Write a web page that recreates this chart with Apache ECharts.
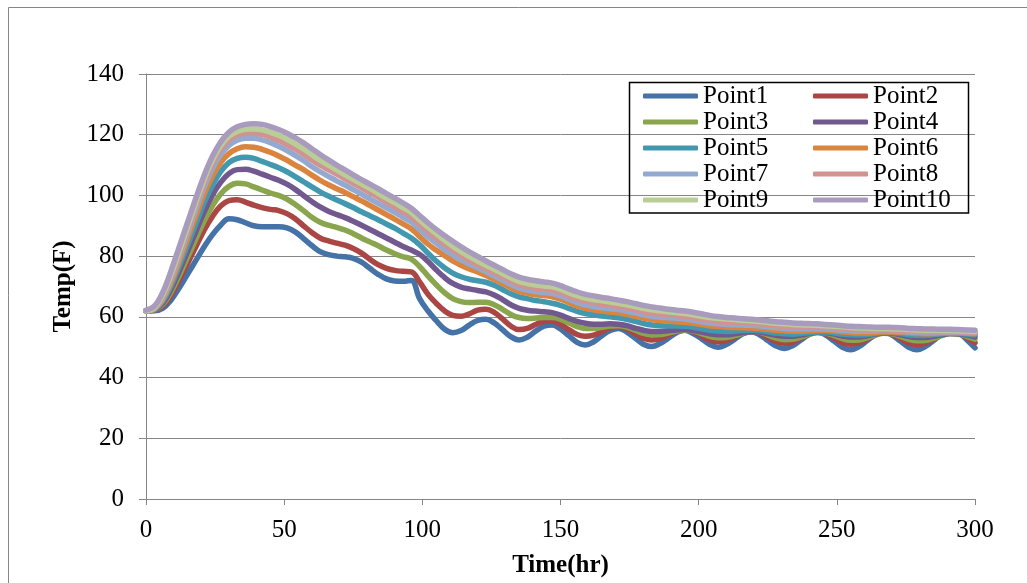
<!DOCTYPE html>
<html>
<head>
<meta charset="utf-8">
<script src="https://cdn.jsdelivr.net/npm/echarts@6/dist/echarts.min.js"></script>
<style>
html,body{margin:0;padding:0;background:#fff;}
#chart{width:1027px;height:583px;}
</style>
</head>
<body>
<div id="chart"></div>
<script>
// ---- data ----
const times = [0,3,6,9,12,15,18,21,24,27,30,33,36,39,42,45,48,51,54,57,
60,63,66,69,72,75,78,81,84,87,90,93,96,99,102,105,108,111,114,117,
120,123,126,129,132,135,138,141,144,147,150,153,156,159,162,165,168,171,174,177,
180,183,186,189,192,195,198,201,204,207,210,213,216,219,222,225,228,231,234,237,
240,243,246,249,252,255,258,261,264,267,270,273,276,279,282,285,288,291,294,297,300];

const seriesNames = ["Point1","Point2","Point3","Point4","Point5","Point6","Point7","Point8","Point9","Point10"];

const point1 = [62,62,62.8,65.5,69.5,74,78.5,83,87,90.2,
92.3,92,91,90,89.7,89.7,89.7,89.3,88,85.8,
83.5,81.5,80.5,80,79.8,79.3,78,76,74,72.5,
71.8,71.7,72,66,62,58.8,56,54.8,55.5,57.3,
58.8,59.2,58,55.8,53.5,52.4,53.3,55.3,56.9,57.3,
56,53.8,51.6,50.7,51.8,53.8,55.5,56.2,55,53,
51,50.2,51.2,53,54.8,55.6,54.5,52.8,50.9,50,
50.9,52.6,54.4,55.1,54.1,52.2,50.4,49.6,50.5,52.4,
54.2,55,54,52,50,49.2,50.2,52.2,54.1,55,
54,52,50,49.2,50.2,52.2,54.2,55.2,54.8,52.5,
49.8];

const point2 = [62,62.2,63.5,67,72,77.5,83,88.5,93,96.5,
98.3,98.6,97.8,96.8,96,95.4,95,94,92.3,90,
87.8,86,85,84.3,83.6,82.5,81,79,77.2,76,
75.3,75,74.8,71.5,67.5,64.5,62,60.5,60.2,61,
62.2,62.5,61.5,59.3,57,55.8,56.2,57.5,58.5,58.6,
57.5,55.8,54.2,53.6,54,55.2,56.4,56.8,56,54.5,
53,52.4,52.8,54,55.3,55.8,55.2,53.8,52.3,51.8,
52.2,53.4,54.7,55.3,54.7,53.3,51.9,51.3,51.7,53,
54.3,55,54.4,53,51.5,51,51.4,52.7,54.1,54.8,
54.3,52.9,51.4,50.9,51.3,52.6,54,54.8,54.5,53.2,
51.5];

const point3 = [62,62.3,64,68,73.5,79.5,85.5,91.5,96.5,100.5,
103,104,103.8,102.8,101.8,100.8,100,98.8,97,95,
92.8,91.2,90.2,89.5,88.6,87.4,86,84.7,83.4,82,
80.8,79.8,79,76.6,73.5,70.6,68,66,65,64.7,
64.8,64.8,64,62.5,60.8,59.8,59.5,59.6,59.8,59.8,
59.2,58,56.8,56.2,56.2,56.6,57,57.1,56.6,55.6,
54.6,54.1,54.2,54.7,55.3,55.6,55.3,54.5,53.6,53.1,
53.2,53.8,54.6,55.1,54.9,54,53,52.5,52.6,53.3,
54.2,54.8,54.6,53.8,52.8,52.3,52.4,53.1,54,54.6,
54.4,53.6,52.6,52.1,52.2,52.9,53.8,54.4,54.3,53.6,
52.6];

const point4 = [62,62.4,64.5,69,75,81.5,88,94.5,100,104.3,
107.2,108.5,108.6,108,107,106,105,103.7,102,100,
98,96.2,94.8,93.7,92.7,91.5,90.2,88.8,87.4,86,
84.6,83.2,82,80.6,78.3,75.5,73,71,69.8,69.2,
68.7,68.2,67.2,65.7,64,62.8,62.2,61.9,61.7,61.4,
60.6,59.5,58.5,57.9,57.6,57.6,57.7,57.6,57.1,56.3,
55.6,55.2,55.2,55.4,55.7,55.8,55.5,55,54.4,54.1,
54.1,54.4,54.8,55.1,55,54.5,53.9,53.6,53.6,54,
54.5,54.9,54.8,54.3,53.7,53.4,53.4,53.8,54.3,54.7,
54.6,54.1,53.5,53.2,53.2,53.6,54.1,54.5,54.4,54,
53.4];

const point5 = [62,62.5,65,70,76.5,83.5,90.5,97.5,103.2,107.8,
110.8,112.2,112.6,112.2,111.2,110.2,109.1,107.8,106.2,104.5,
102.8,101.2,99.8,98.5,97.3,96,94.6,93.3,92,90.6,
89.2,87.6,86,83.8,81,78.4,76.2,74.4,73.2,72.4,
71.9,71.4,70.4,69,67.6,66.6,66,65.4,65,64.5,
63.8,62.8,61.8,61.1,60.7,60.3,60,59.7,59.2,58.5,
57.8,57.3,57.1,57,57,56.9,56.6,56.1,55.6,55.3,
55.2,55.3,55.5,55.6,55.5,55.1,54.7,54.4,54.3,54.5,
54.8,55,55,54.7,54.3,54.1,54,54.2,54.5,54.8,
54.8,54.5,54.1,53.9,53.9,54.1,54.4,54.6,54.6,54.3,
54];

const point6 = [62,62.6,65.5,71,78,85.5,93,100.2,106.2,110.8,
113.8,115.4,116,115.9,115.2,114.2,113,111.6,110,108.5,
106.7,105,103.5,102.2,101,99.6,98.2,96.7,95.2,93.7,
92.2,90.6,89,86.5,84,82,80.2,78.4,77,75.8,
74.8,73.6,72.4,71,69.6,68.4,67.8,67.3,67,66.6,
65.8,64.7,63.6,62.8,62.3,61.9,61.6,61.3,60.8,60.2,
59.6,59.1,58.8,58.6,58.4,58.2,57.9,57.5,57.1,56.8,
56.6,56.5,56.4,56.3,56.2,55.9,55.6,55.4,55.3,55.3,
55.4,55.5,55.5,55.3,55,54.8,54.7,54.7,54.8,55,
55,54.9,54.7,54.5,54.4,54.5,54.6,54.7,54.7,54.6,
54.4];

const point7 = [62,62.7,66,72,79.3,87.2,95,102.5,108.7,113.4,
116.5,118.2,118.8,118.8,118.3,117.4,116.2,114.8,113.2,111.5,
109.5,107.8,106.3,104.8,103.4,101.9,100.4,98.9,97.4,95.9,
94.4,92.8,91.2,88.8,86.4,84.3,82.3,80.4,78.8,77.4,
76.2,74.9,73.5,72.1,70.7,69.5,68.8,68.3,68,67.7,
66.9,65.8,64.7,63.9,63.4,63,62.7,62.4,61.9,61.3,
60.7,60.2,59.9,59.7,59.5,59.3,58.9,58.4,58,57.7,
57.5,57.4,57.3,57.2,57,56.7,56.4,56.2,56.1,56.1,
56.1,56.1,56,55.8,55.6,55.4,55.3,55.3,55.3,55.4,
55.3,55.2,55,54.9,54.8,54.8,54.9,54.9,54.9,54.8,
54.7];

const point8 = [62,62.8,66.5,72.8,80.3,88.3,96.3,104,110.4,115.2,
118.3,119.9,120.5,120.5,120.1,119.2,118.1,116.8,115.3,113.6,
111.7,110,108.5,107,105.5,104,102.5,101,99.4,97.8,
96.2,94.6,92.9,90.5,88.2,86,84,82,80.2,78.6,
77.2,75.9,74.6,73.2,71.8,70.6,69.9,69.4,69.1,68.8,
68,66.9,65.9,65.1,64.6,64.2,63.8,63.4,62.9,62.3,
61.7,61.2,60.9,60.6,60.4,60.1,59.7,59.2,58.8,58.5,
58.3,58.2,58,57.9,57.7,57.4,57.1,56.9,56.8,56.7,
56.7,56.7,56.6,56.4,56.1,55.9,55.8,55.7,55.7,55.7,
55.6,55.5,55.3,55.2,55.1,55.1,55.1,55.1,55.1,55,
54.9];

const point9 = [62,63,67.2,73.8,81.5,89.5,97.5,105.2,111.6,116.4,
119.5,121.1,121.8,121.9,121.6,120.8,119.8,118.5,117,115.3,
113.4,111.6,110,108.4,106.8,105.3,103.8,102.3,100.7,99.1,
97.6,96,94.4,91.9,89.6,87.4,85.3,83.3,81.5,79.9,
78.4,77,75.7,74.3,72.9,71.7,71,70.5,70.2,69.9,
69.1,68,67,66.2,65.7,65.3,64.9,64.5,64,63.4,
62.8,62.3,62,61.7,61.4,61.1,60.7,60.2,59.8,59.5,
59.3,59.1,58.9,58.7,58.5,58.2,57.9,57.7,57.5,57.4,
57.3,57.2,57.1,56.9,56.7,56.5,56.4,56.3,56.2,56.2,
56.1,56,55.8,55.7,55.6,55.6,55.5,55.5,55.4,55.3,
55.2];

const point10 = [62.2,63.5,68,75,83,91,99,106.5,112.8,117.6,
120.8,122.6,123.4,123.6,123.4,122.7,121.7,120.5,119,117.3,
115.4,113.5,111.7,110,108.4,106.8,105.2,103.7,102.2,100.6,
99.1,97.5,95.8,93.4,91,88.8,86.8,84.9,83.1,81.4,
79.9,78.4,77,75.6,74.2,73.1,72.4,71.9,71.5,71.1,
70.3,69.2,68.2,67.4,66.9,66.4,66,65.5,65,64.4,
63.8,63.3,62.9,62.5,62.2,61.9,61.5,61,60.5,60.1,
59.8,59.6,59.4,59.2,59,58.7,58.4,58.2,58,57.9,
57.8,57.7,57.5,57.3,57.1,56.9,56.8,56.7,56.6,56.6,
56.5,56.4,56.2,56.1,56,56,55.9,55.9,55.8,55.7,
55.6];

const xTicks = [0,50,100,150,200,250,300];
const yTicks = [0,20,40,60,80,100,120,140];

// ---- styles ----
const colors = ["#4572A7","#AA4643","#89A54E","#71588F","#4198AF","#DB843D","#93A9CF","#D19392","#B9CD96","#A99BBD"];
const allValues = [point1,point2,point3,point4,point5,point6,point7,point8,point9,point10];
const FONT = "Liberation Serif";
const GRAY = "#868686";

const series = seriesNames.map((name, i) => ({
  name: name,
  type: 'line',
  data: times.map((t, k) => [t, allValues[i][k]]),
  showSymbol: false,
  symbol: 'none',
  smooth: 0.4,
  lineStyle: { width: 5.5, color: colors[i], cap: 'round', join: 'round' },
  itemStyle: { color: colors[i] },
  emphasis: { disabled: true },
  animation: false
}));

const legendCommon = {
  orient: 'vertical',
  icon: 'roundRect',
  itemWidth: 55,
  itemHeight: 5,
  itemGap: 0,
  padding: 0,
  textStyle: { fontFamily: FONT, fontSize: 25, color: '#000', lineHeight: 26 },
  selectedMode: false
};

const chart = echarts.init(document.getElementById('chart'), null, { renderer: 'canvas' });
chart.setOption({
  backgroundColor: '#fff',
  animation: false,
  textStyle: { fontFamily: FONT },
  color: colors,
  grid: { left: 146, right: 52, top: 74, bottom: 84, containLabel: false },
  xAxis: {
    type: 'value', min: xTicks[0], max: xTicks[xTicks.length-1], interval: 50,
    name: 'Time(hr)', nameLocation: 'middle', nameGap: 54,
    nameTextStyle: { fontFamily: FONT, fontSize: 25, fontWeight: 'bold', color: '#000' },
    axisLine: { show: true, lineStyle: { color: GRAY, width: 1 } },
    axisTick: { show: true, inside: false, length: 6, lineStyle: { color: GRAY } },
    axisLabel: { fontFamily: FONT, fontSize: 25, color: '#000', margin: 19 },
    splitLine: { show: false }
  },
  yAxis: {
    type: 'value', min: yTicks[0], max: yTicks[yTicks.length-1], interval: 20,
    name: 'Temp(F)', nameLocation: 'middle', nameGap: 70, nameRotate: 90,
    nameTextStyle: { fontFamily: FONT, fontSize: 25, fontWeight: 'bold', color: '#000' },
    axisLine: { show: true, lineStyle: { color: GRAY, width: 1 } },
    axisTick: { show: true, inside: false, length: 7, lineStyle: { color: GRAY } },
    axisLabel: { fontFamily: FONT, fontSize: 25, color: '#000', margin: 22 },
    splitLine: { show: true, lineStyle: { color: GRAY, width: 1 } }
  },
  legend: [
    Object.assign({}, legendCommon, { left: 643, top: 83, data: seriesNames.filter((n, i) => i % 2 === 0) }),
    Object.assign({}, legendCommon, { left: 813, top: 83, data: seriesNames.filter((n, i) => i % 2 === 1) })
  ],
  graphic: [
    { type: 'rect', silent: true, z: 100,
      shape: { x: 8.5, y: 7.5, width: 1200, height: 1000 },
      style: { fill: 'none', stroke: GRAY, lineWidth: 1 } },
    { type: 'rect', silent: true, z: 100,
      shape: { x: 629.5, y: 82.5, width: 339, height: 130.5 },
      style: { fill: 'none', stroke: '#000', lineWidth: 1.5 } }
  ],
  series: series
});
</script>
</body>
</html>
